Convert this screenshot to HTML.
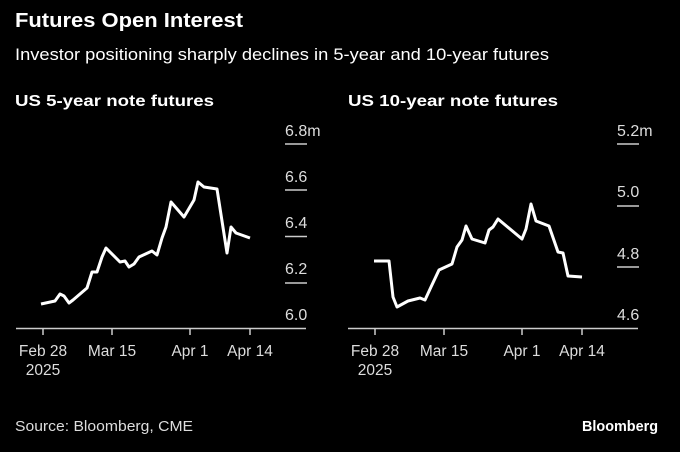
<!DOCTYPE html><html><head><style>
body{margin:0;background:#000;width:680px;height:447px;overflow:hidden;font-family:"Liberation Sans",sans-serif;color:#fff}
</style></head><body>
<svg width="680" height="447" xmlns="http://www.w3.org/2000/svg" font-family="Liberation Sans, sans-serif">
<text x="15" y="27" font-size="20" font-weight="bold" fill="#fff" textLength="228" lengthAdjust="spacingAndGlyphs">Futures Open Interest</text>
<text x="15" y="60" font-size="17" fill="#fff" textLength="534" lengthAdjust="spacingAndGlyphs">Investor positioning sharply declines in 5-year and 10-year futures</text>
<text x="15" y="106" font-size="16" font-weight="bold" fill="#fff" textLength="199" lengthAdjust="spacingAndGlyphs">US 5-year note futures</text>
<text x="348" y="106" font-size="16" font-weight="bold" fill="#fff" textLength="210" lengthAdjust="spacingAndGlyphs">US 10-year note futures</text>
<g stroke="#ccc" stroke-width="1.5">
<line x1="285" x2="307" y1="144" y2="144"/><line x1="285" x2="307" y1="190" y2="190"/><line x1="285" x2="307" y1="236.5" y2="236.5"/><line x1="285" x2="307" y1="283" y2="283"/>
<line x1="16" x2="306" y1="328.5" y2="328.5"/>
<line x1="43" x2="43" y1="328" y2="335"/><line x1="112" x2="112" y1="328" y2="335"/><line x1="190" x2="190" y1="328" y2="335"/><line x1="250" x2="250" y1="328" y2="335"/>
<line x1="617" x2="639" y1="144" y2="144"/><line x1="617" x2="639" y1="206" y2="206"/><line x1="617" x2="639" y1="267" y2="267"/>
<line x1="348" x2="638" y1="328.5" y2="328.5"/>
<line x1="375" x2="375" y1="328" y2="335"/><line x1="444" x2="444" y1="328" y2="335"/><line x1="522" x2="522" y1="328" y2="335"/><line x1="582" x2="582" y1="328" y2="335"/>
</g>
<g font-size="16" fill="#ddd">
<text x="285" y="136">6.8m</text><text x="285" y="182">6.6</text><text x="285" y="228">6.4</text><text x="285" y="274">6.2</text><text x="285" y="320">6.0</text>
<text x="617" y="136">5.2m</text><text x="617" y="197">5.0</text><text x="617" y="259">4.8</text><text x="617" y="320">4.6</text>
</g>
<g font-size="15.5" fill="#ddd" text-anchor="middle">
<text x="43" y="356">Feb 28</text><text x="43" y="375">2025</text><text x="112" y="356">Mar 15</text><text x="190" y="356">Apr 1</text><text x="250" y="356">Apr 14</text>
<text x="375" y="356">Feb 28</text><text x="375" y="375">2025</text><text x="444" y="356">Mar 15</text><text x="522" y="356">Apr 1</text><text x="582" y="356">Apr 14</text>
</g>
<g fill="none" stroke="#fff" stroke-width="3" stroke-linejoin="round">
<polyline points="41,304 55,301 60,294 64,296 69,303 73,300 87,288 92,272 97,272 102,257 106,248 120,262 125,261 129,267 134,264 139,257 152,251 157,255 162,238 166,227 171,202 184,217 194,200 198,182 204,187 217,189 227,253 231,227 236,233 250,238"/>
<polyline points="374,261 389,261 393,297 397,307 408,301 420,298 425,300 431,287 439,270 452,264 457,247 462,240 466,226 472,239 485,243 489,230 493,227 498,219 522,239 526,229 531,204 536,221 549,226 558,252 563,253 568,276 582,277"/>
</g>
<text x="15" y="431" font-size="15" fill="#ddd" textLength="178" lengthAdjust="spacingAndGlyphs">Source: Bloomberg, CME</text>
<text x="582" y="431" font-size="15" font-weight="bold" fill="#fff" textLength="76" lengthAdjust="spacingAndGlyphs">Bloomberg</text>
</svg>
</body></html>
